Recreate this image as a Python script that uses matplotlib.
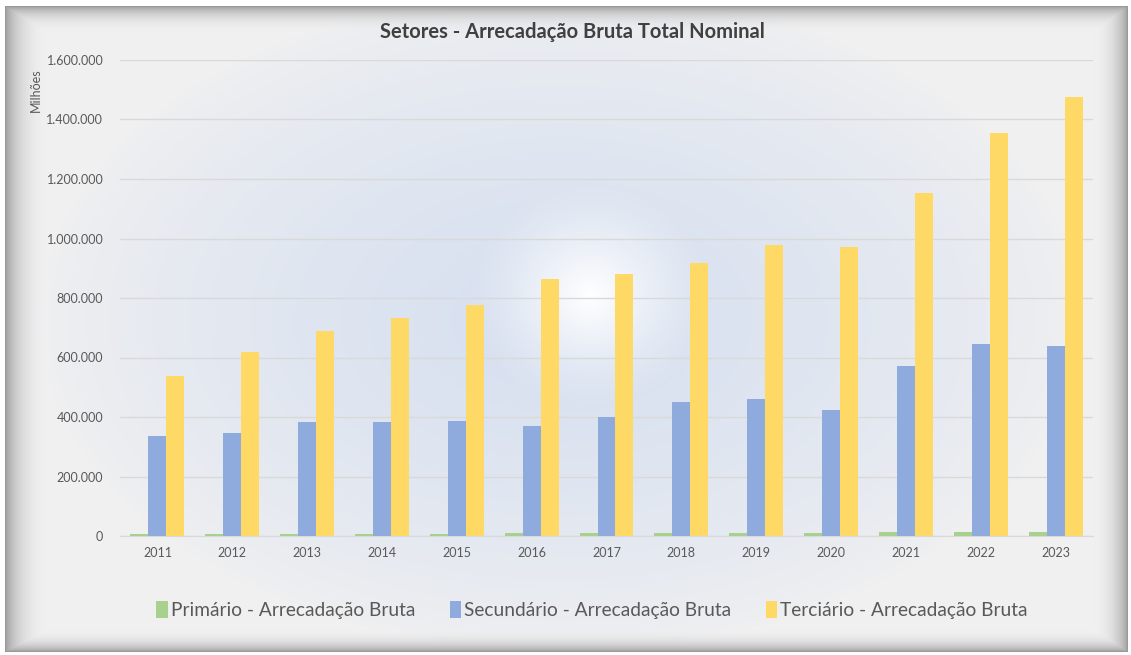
import numpy as np
import matplotlib
matplotlib.use("Agg")
from matplotlib import pyplot as plt
from matplotlib.ticker import FuncFormatter

plt.rcParams['font.family'] = ['Lato', 'DejaVu Sans']

# valores em milhoes
anos = list(range(2011, 2024))
primario = [7000, 7000, 7000, 7000, 7000, 10000, 10000, 10000, 10000, 10000, 15000, 15000, 15000]
secundario = [336000, 346000, 383000, 383000, 387000, 370000, 400000, 450000, 460000, 423000, 571000, 645000, 639000]
terciario = [538000, 618000, 689000, 733000, 776000, 864000, 881000, 918000, 978000, 971000, 1153000, 1355000, 1476000]

W, H = 1131, 655
fig = plt.figure(figsize=(W / 100, H / 100), dpi=100)

# fundo: moldura chanfrada + gradiente azulado
yy, xx = np.mgrid[0:H, 0:W].astype(float)
x0, x1, y0, y1 = 5, 1127, 6, 651
t = np.minimum.reduce([(xx - x0) / 42, (x1 - xx) / 34, (yy - y0) / 26, (y1 - yy) / 22])
inside = t >= 0
t = np.clip(t, 0, 1)
gray = 0.60 + 0.34 * t ** 0.6

base = np.array([240, 240, 241]) / 255
blue = np.array([216, 225, 240]) / 255
r = np.sqrt(((xx - 560) / 520) ** 2 + ((yy - 320) / 330) ** 2)
wblue = np.clip(1.15 * (1 - r), 0, 1) ** 0.7
rs = np.sqrt(((xx - 590) / 120) ** 2 + ((yy - 295) / 110) ** 2)
wwhite = np.clip(1 - rs, 0, 1) ** 1.2
img = base[None, None, :] * (1 - wblue[..., None]) + blue[None, None, :] * wblue[..., None]
img = img * (1 - wwhite[..., None]) + 1.0 * wwhite[..., None]
edge = t < 1
img[edge] = np.stack([gray[edge]] * 3, axis=-1) * (1 - t[edge][:, None]) + img[edge] * t[edge][:, None]
img[~inside] = 1.0

bg = fig.add_axes([0, 0, 1, 1], zorder=0)
bg.imshow(img, aspect='auto', extent=(0, W, H, 0))
bg.axis('off')

ax = fig.add_axes([120 / W, 1 - 536 / H, (1093 - 120) / W, (536 - 60) / H], zorder=1)
ax.patch.set_alpha(0)

x = np.arange(len(anos))
w = 0.24
ax.bar(x - w, primario, w, color='#a9d18e', label='Primário - Arrecadação Bruta', zorder=3)
ax.bar(x, secundario, w, color='#8faadc', label='Secundário - Arrecadação Bruta', zorder=3)
ax.bar(x + w, terciario, w, color='#ffd966', label='Terciário - Arrecadação Bruta', zorder=3)

ax.set_xlim(-0.5, len(anos) - 0.5)
ax.set_ylim(0, 1600000)
ax.set_yticks(np.arange(0, 1600001, 200000))
ax.yaxis.set_major_formatter(FuncFormatter(lambda v, p: f'{int(v):,}'.replace(',', '.')))
ax.set_xticks(x)
ax.set_xticklabels(anos)
ax.grid(axis='y', color='#d9d9d9', linewidth=1, zorder=0)
for s in ['top', 'right', 'left']:
    ax.spines[s].set_visible(False)
ax.spines['bottom'].set_color('#d9d9d9')
ax.tick_params(length=0, labelsize=9, colors='#595959', pad=8)
ax.tick_params(axis='y', pad=12)

fig.text(36 / W, 1 - 90 / H, 'Milhões', rotation=90, ha='center', va='center', fontsize=9, color='#595959')
fig.text(572 / W, 1 - 32 / H, 'Setores - Arrecadação Bruta Total Nominal', ha='center', va='center',
         fontsize=14.5, fontweight='bold', color='#404040')

ax.legend(loc='center', bbox_to_anchor=((592 - 120) / (1093 - 120), (536 - 610) / (536 - 60)), ncol=3,
          frameon=False, fontsize=13.8, handlelength=0.6, handleheight=1.0, handletextpad=0.15,
          columnspacing=1.8, labelcolor='#595959')

fig.savefig('out.png', dpi=100)
